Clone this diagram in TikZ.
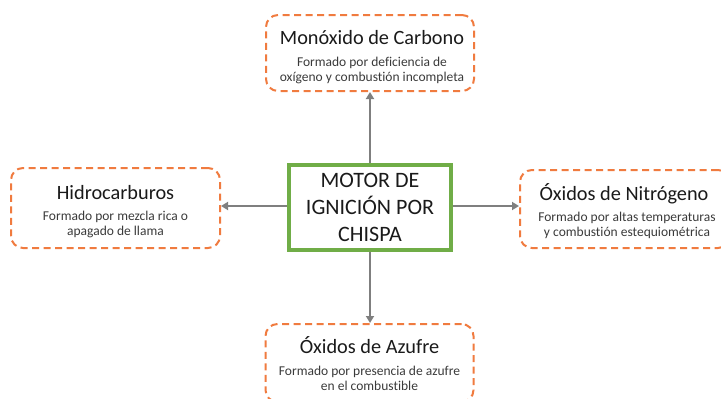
\documentclass[tikz,border=0pt]{standalone}
\usepackage{fontspec}
\setmainfont[Ligatures={NoCommon}]{Carlito}
\usetikzlibrary{arrows.meta}
\definecolor{orng}{HTML}{F07B3F}
\definecolor{grn}{HTML}{70AD47}
\definecolor{gry}{HTML}{7F7F7F}
\definecolor{txt}{HTML}{1A1A1A}
\definecolor{subtxt}{HTML}{3A3A3A}
\begin{document}
\begin{tikzpicture}[x=1pt,y=-1pt,
  effbox/.style={draw=orng, line width=2pt, dash pattern=on 7pt off 4.5pt,
    rounded corners=12pt, minimum width=208pt, minimum height=76pt, inner sep=0pt},
  ttl/.style={anchor=base, inner sep=0pt, text=txt, font=\fontsize{20.3}{24}\selectfont},
  sub/.style={anchor=base, inner sep=0pt, text=subtxt, font=\fontsize{13.5}{15}\selectfont},
  conn/.style={draw=gry, line width=2.5pt, -{Triangle[length=7pt,width=8pt]}},
  motorbox/.style={draw=grn, line width=4pt, minimum width=162pt, minimum height=85pt,
    inner sep=0pt, align=center, text=txt, font=\fontsize{22}{27}\selectfont}]
\useasboundingbox (0,0) rectangle (721,399);

% centre
\node[motorbox] (motor) at (370,207.5) {MOTOR DE\\IGNICIÓN POR\\CHISPA};

% top
\node[effbox] (co) at (370,53) {};
\node[ttl] (coT) at (372,44.3) {Monóxido de Carbono};
\node[sub] (coS1) at (372,66.7) {Formado por deficiencia de};
\node[sub] (coS2) at (372,81.7) {oxígeno y combustión incompleta};

% left
\node[effbox, minimum width=209pt, minimum height=80pt] (hc) at (115.5,208) {};
\node[ttl] (hcT) at (115.5,199) {Hidrocarburos};
\node[sub] (hcS1) at (115.5,220.7) {Formado por mezcla rica o};
\node[sub] (hcS2) at (115.5,235.7) {apagado de llama};

% right
\node[effbox, minimum width=210pt, minimum height=78pt] (nox) at (625,209) {};
\node[ttl] (noxT) at (624,200) {Óxidos de Nitrógeno};
\node[sub] (noxS1) at (627,221.7) {Formado por altas temperaturas};
\node[sub] (noxS2) at (627,236.7) {y combustión estequiométrica};

% bottom
\node[effbox, minimum height=78pt] (sox) at (369.5,363) {};
\node[ttl] (soxT) at (369.5,353) {Óxidos de Azufre};
\node[sub] (soxS1) at (369.5,375.5) {Formado por presencia de azufre};
\node[sub] (soxS2) at (369.5,390.5) {en el combustible};

% connectors
\draw[conn] (motor.north) -- (motor.north |- co.south);
\draw[conn] (motor.south) -- (motor.south |- sox.north);
\draw[conn] ([yshift=1.5pt]motor.west) -- ([yshift=1.5pt]motor.west -| hc.east);
\draw[conn] ([yshift=1.5pt]motor.east) -- ([yshift=1.5pt]motor.east -| nox.west);
\end{tikzpicture}
\end{document}
